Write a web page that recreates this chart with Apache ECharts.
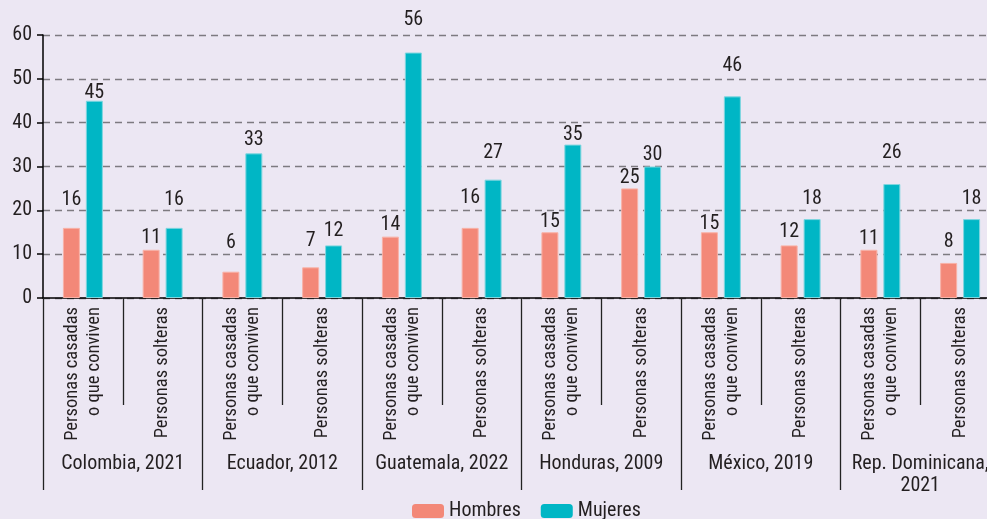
<!DOCTYPE html>
<html>
<head>
<meta charset="utf-8">
<script src="https://cdn.jsdelivr.net/npm/echarts@6/dist/echarts.min.js"></script>
<style>
html,body{margin:0;padding:0;background:#ECE7F3;}
#chart{width:987px;height:519px;}
</style>
</head>
<body>
<div id="chart"></div>
<script>
var categories = [
  'Personas casadas\no que conviven','Personas solteras',
  'Personas casadas\no que conviven','Personas solteras',
  'Personas casadas\no que conviven','Personas solteras',
  'Personas casadas\no que conviven','Personas solteras',
  'Personas casadas\no que conviven','Personas solteras',
  'Personas casadas\no que conviven','Personas solteras'
];
var groups = ['Colombia, 2021','Ecuador, 2012','Guatemala, 2022','Honduras, 2009','México, 2019','Rep. Dominicana,\n2021'];
var hombres = [16,11,6,7,14,16,15,25,15,12,11,8];
var mujeres = [45,16,33,12,56,27,35,30,46,18,26,18];
var yTicks = [0,10,20,30,40,50,60];

// label gaps (style only, pixels above bar top)
var gapH = [28,12,29,26,12,30,10,10,8,13,11,21];
var gapM = [8,28,13,14,33,27,10,12,30,20,31,20];

var FONT = "'Roboto Condensed','DejaVu Sans Condensed',sans-serif";
var FW = 'normal';
var TXT = '#231F20';

function mk(vals, gaps){
  return vals.map(function(v,i){
    return {value:v, label:{distance: gaps[i]-10}};
  });
}

var chart = echarts.init(document.getElementById('chart'));
chart.setOption({
  backgroundColor:'#ECE7F3',
  animation:false,
  grid:{left:43, width:957, top:35, bottom:221, containLabel:false, outerBoundsMode:'none'},
  legend:{
    top:496, left:407, padding:5,
    itemWidth:32, itemHeight:14, itemGap:20,
    itemStyle:{borderWidth:0},
    textStyle:{fontFamily:FONT, fontWeight:FW, fontSize:20, color:TXT},
    data:['Hombres','Mujeres']
  },
  xAxis:[{
    type:'category', data:categories, position:'bottom',
    axisLine:{show:true, lineStyle:{color:'#000', width:1.5}},
    axisTick:{show:true, interval:0, length:107, lineStyle:{color:'#222', width:1.3}},
    axisLabel:{interval:0, rotate:90, margin:9, fontFamily:FONT, fontWeight:FW, fontSize:18.5, color:TXT, lineHeight:22}
  },{
    type:'category', data:groups, position:'bottom', offset:107,
    axisLine:{show:false},
    axisTick:{show:true, interval:0, length:85, lineStyle:{color:'#222', width:1.3}},
    axisLabel:{interval:0, margin:48, fontFamily:FONT, fontWeight:FW, fontSize:20, color:TXT, lineHeight:22}
  }],
  yAxis:{
    type:'value', min:0, max:60, interval:10,
    axisLine:{show:true, lineStyle:{color:'#000', width:1.5}},
    axisTick:{show:true, length:6, lineStyle:{color:'#000', width:1.5}},
    axisLabel:{margin:11, fontFamily:FONT, fontWeight:FW, fontSize:20, color:TXT,
      formatter:function(v){ return yTicks.indexOf(v)>=0 ? String(v) : ''; }},
    splitLine:{show:true, lineStyle:{color:'#7d7a80', width:1.3, type:[7,5]}}
  },
  series:[{
    name:'Hombres', type:'bar', xAxisIndex:0, data:mk(hombres,gapH),
    barWidth:17, barGap:'35%',
    itemStyle:{color:'#F38878', borderColor:'#F8B2A7', borderWidth:1},
    label:{show:true, position:'top', fontFamily:FONT, fontWeight:FW, fontSize:20, color:TXT}
  },{
    name:'Mujeres', type:'bar', xAxisIndex:0, data:mk(mujeres,gapM),
    barWidth:17, barGap:'35%',
    itemStyle:{color:'#00B6C5', borderColor:'#7FD6DF', borderWidth:1},
    label:{show:true, position:'top', fontFamily:FONT, fontWeight:FW, fontSize:20, color:TXT}
  }]
});
</script>
</body>
</html>
